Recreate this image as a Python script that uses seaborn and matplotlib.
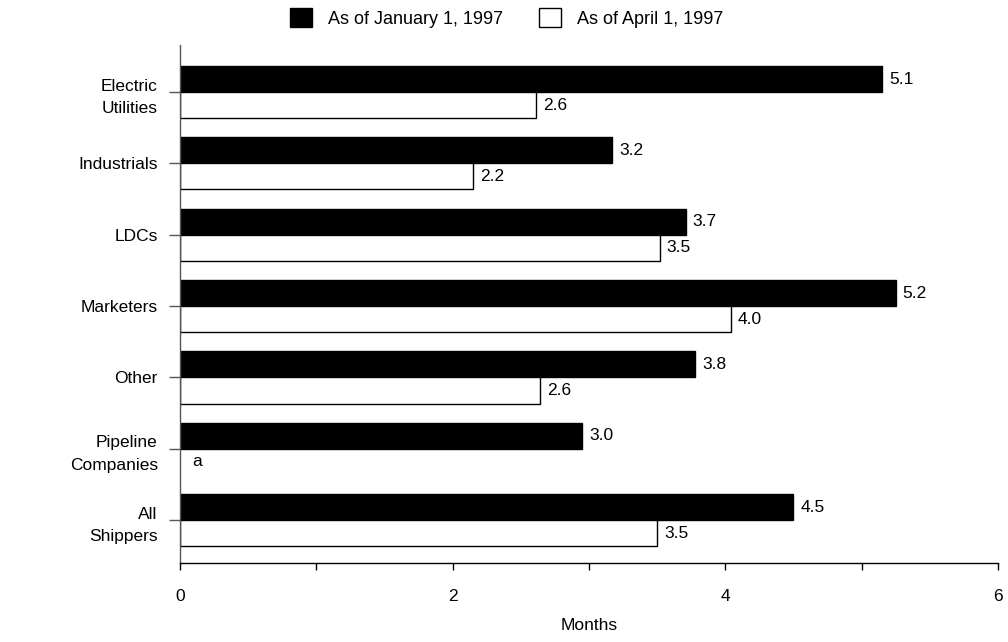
import matplotlib
matplotlib.use("Agg")
import matplotlib.pyplot as plt
import seaborn as sns
import pandas as pd
import numpy as np
from matplotlib.patches import Patch

categories = ["Electric\nUtilities", "Industrials", "LDCs", "Marketers", "Other",
              "Pipeline\nCompanies", "All\nShippers"]
jan_values = [5.15, 3.17, 3.71, 5.25, 3.78, 2.95, 4.5]
apr_values = [2.61, 2.15, 3.52, 4.04, 2.64, np.nan, 3.5]
jan_labels = ["5.1", "3.2", "3.7", "5.2", "3.8", "3.0", "4.5"]
apr_labels = ["2.6", "2.2", "3.5", "4.0", "2.6", "a", "3.5"]
series = ["As of January 1, 1997", "As of April 1, 1997"]
x_ticks = [0, 2, 4, 6]

sns.set_style("white")
plt.rcParams['font.family'] = ['Liberation Sans', 'DejaVu Sans']
plt.rcParams['text.color'] = 'black'
plt.rcParams['xtick.color'] = 'black'
plt.rcParams['ytick.color'] = 'black'
plt.rcParams['axes.labelcolor'] = 'black'

df = pd.DataFrame({
    "cat": categories * 2,
    "val": jan_values + apr_values,
    "series": [series[0]] * len(categories) + [series[1]] * len(categories),
})

fig = plt.figure(figsize=(10.08, 6.42), dpi=100)
ax = fig.add_axes([0.1786, 0.123, 0.990 - 0.1786, 0.930 - 0.123])

sns.barplot(data=df, x="val", y="cat", hue="series", orient="h",
            palette=["black", "white"], order=categories, hue_order=series,
            width=0.73, gap=0, edgecolor="black", linewidth=1.0,
            errorbar=None, legend=False, ax=ax)

bar_h = 0.73 / 2
for i in range(len(categories)):
    yj = i - bar_h / 2
    ya = i + bar_h / 2
    ax.text(jan_values[i] + 0.05, yj, jan_labels[i], va="center", ha="left",
            fontsize=12.5, color="black")
    if np.isnan(apr_values[i]):
        ax.text(0.09, ya, apr_labels[i], va="center", ha="left", fontsize=12.5, color="black")
    else:
        ax.text(apr_values[i] + 0.05, ya, apr_labels[i], va="center", ha="left",
                fontsize=12.5, color="black")

ax.set_xlim(0, 6)
ax.set_ylim(6.6, -0.66)
ax.set_xticks(x_ticks)
ax.set_xticklabels([str(t) for t in x_ticks], fontsize=12.5)
ax.set_xticks([1, 3, 5], minor=True)
ax.set_xlabel("Months", fontsize=12.5, labelpad=10)
ax.set_ylabel("")
ax.tick_params(axis="y", labelsize=12.5, length=8, width=1, color="#555555", pad=8, left=True)
ax.tick_params(axis="x", which="both", length=5, width=1, color="black", bottom=True,
               pad=14, direction="out")
for lab in ax.get_yticklabels():
    lab.set_ha("right")
    lab.set_multialignment("right")
    lab.set_linespacing(1.6)
    lab.set_color("black")

sns.despine(ax=ax, top=True, right=True)
ax.spines["left"].set_color("#555555")
ax.spines["left"].set_linewidth(1)
ax.spines["bottom"].set_color("black")
ax.spines["bottom"].set_linewidth(1)

handles = [Patch(facecolor="black", edgecolor="black", label=series[0]),
           Patch(facecolor="white", edgecolor="black", label=series[1])]
fig.legend(handles=handles, loc="center", bbox_to_anchor=(0.503, 0.972), ncol=2,
           frameon=False, fontsize=13, handlelength=1.2, handleheight=1.2,
           columnspacing=2.0, handletextpad=0.9)

fig.savefig("out.png", dpi=100)
